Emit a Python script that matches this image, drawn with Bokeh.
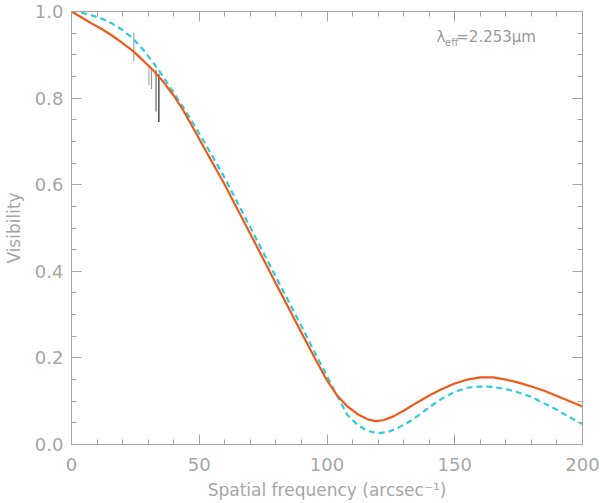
import numpy as np
from bokeh.plotting import figure
from bokeh.models import (LinearAxis, SingleIntervalTicker, FixedTicker,
                          PrintfTickFormatter, Range1d, Label, ColumnDataSource)
from bokeh.embed import file_html
from bokeh.resources import INLINE

# ---- data ----
model_freq = [0, 4, 8, 12, 16, 20, 24, 28, 32, 36, 40, 44, 48, 52, 56, 60, 65,
              70, 75, 80, 85, 90, 95, 100, 104, 108, 112, 116, 119, 122, 126,
              130, 135, 140, 145, 150, 155, 160, 165, 170, 175, 180, 185, 190,
              195, 200]
model_vis = [1.000, 0.986, 0.972, 0.959, 0.944, 0.927, 0.909, 0.887, 0.864,
             0.837, 0.806, 0.769, 0.727, 0.684, 0.642, 0.600, 0.543, 0.486,
             0.429, 0.372, 0.315, 0.258, 0.202, 0.148, 0.113, 0.088, 0.070,
             0.058, 0.054, 0.056, 0.065, 0.078, 0.096, 0.113, 0.128, 0.141,
             0.150, 0.155, 0.155, 0.150, 0.143, 0.134, 0.124, 0.112, 0.100,
             0.088]

fit_freq = [0, 4, 8, 12, 16, 20, 24, 28, 32, 36, 40, 44, 48, 52, 56, 60, 65,
            70, 75, 80, 85, 90, 95, 100, 104, 108, 112, 116, 120, 124, 128,
            132, 136, 140, 145, 150, 155, 160, 165, 170, 175, 180, 185, 190,
            195, 200]
fit_vis = [1.003, 0.997, 0.991, 0.983, 0.972, 0.957, 0.938, 0.912, 0.882,
           0.848, 0.812, 0.776, 0.738, 0.698, 0.657, 0.615, 0.558, 0.501,
           0.444, 0.387, 0.330, 0.273, 0.215, 0.158, 0.112, 0.068, 0.045,
           0.031, 0.026, 0.029, 0.039, 0.052, 0.068, 0.086, 0.106, 0.122,
           0.131, 0.134, 0.133, 0.128, 0.120, 0.110, 0.095, 0.080, 0.063,
           0.047]

obs_freq = [24.4, 30.3, 31.3, 33.1, 34.2]
obs_vis = [0.918, 0.850, 0.843, 0.817, 0.800]
obs_err = [0.033, 0.020, 0.022, 0.048, 0.055]
obs_color = ["#aaaaaa", "#aaaaaa", "#999999", "#666666", "#222222"]

x_major = [0, 50, 100, 150, 200]
x_minor = [v for v in range(0, 201, 10) if v % 50]
y_major = [0.0, 0.2, 0.4, 0.6, 0.8, 1.0]
y_minor = [round(v, 2) for v in np.arange(0.05, 1.0, 0.05) if round(v * 20) % 4]

GRAY = "#a6a6a6"
FONT = "DejaVu Sans"

p = figure(width=600, height=503, output_backend="svg", toolbar_location=None,
           x_range=Range1d(0, 200), y_range=Range1d(0, 1),
           x_axis_type=None, y_axis_type=None,
           min_border_left=71, min_border_right=18,
           min_border_top=11, min_border_bottom=59)
p.xgrid.visible = False
p.ygrid.visible = False
p.outline_line_color = None
p.background_fill_color = "white"
p.border_fill_color = "white"


def style_axis(ax):
    ax.axis_line_color = GRAY
    ax.axis_line_width = 1
    ax.major_tick_line_color = GRAY
    ax.minor_tick_line_color = GRAY
    ax.major_tick_in = 10
    ax.major_tick_out = 0
    ax.minor_tick_in = 5
    ax.minor_tick_out = 0
    ax.major_label_text_color = GRAY
    ax.major_label_text_font = FONT
    ax.major_label_text_font_size = "18px"
    ax.axis_label_text_color = GRAY
    ax.axis_label_text_font = FONT
    ax.axis_label_text_font_style = "normal"
    ax.axis_label_text_font_size = "17px"


def bare_axis(ticks, length, line=True):
    ax = LinearAxis(ticker=FixedTicker(ticks=[], minor_ticks=ticks))
    ax.axis_line_color = GRAY if line else None
    ax.major_tick_line_color = None
    ax.minor_tick_line_color = GRAY
    ax.minor_tick_in = length
    ax.minor_tick_out = 0
    ax.major_label_standoff = 0
    return ax


xb = LinearAxis(ticker=SingleIntervalTicker(interval=50, num_minor_ticks=5),
                axis_label="Spatial frequency (arcsec\u207b\u00b9)")
style_axis(xb)
xb.major_label_standoff = 13
xb.axis_label_standoff = 6
p.add_layout(xb, "below")

yl = LinearAxis(ticker=SingleIntervalTicker(interval=0.2, num_minor_ticks=4),
                axis_label="Visibility",
                formatter=PrintfTickFormatter(format="%.1f"))
style_axis(yl)
yl.major_label_standoff = 8
yl.axis_label_standoff = 8
p.add_layout(yl, "left")

# top and right frame with inward ticks, no labels
p.add_layout(bare_axis(x_minor, 5, line=True), "above")
p.add_layout(bare_axis(x_major, 10, line=False), "above")
p.add_layout(bare_axis(y_minor, 5, line=True), "right")
p.add_layout(bare_axis(y_major, 10, line=False), "right")

# observations (error bars)
ov = np.array(obs_vis)
oe = np.array(obs_err)
src = ColumnDataSource(dict(x=obs_freq, lo=ov - oe, hi=ov + oe, c=obs_color))
p.segment(x0="x", y0="lo", x1="x", y1="hi", source=src, line_color="c",
          line_width=1.2)

# models
p.line(fit_freq, fit_vis, line_color="#2ccbe0", line_width=2.2,
       line_dash="6 4")
p.line(model_freq, model_vis, line_color="#ee5a18", line_width=2.2)

# annotation
common = dict(text_color="#999999", text_font=FONT, text_baseline="middle",
              text_align="left")
p.add_layout(Label(x=142.9, y=0.942, text="\u03bb", text_font_size="15px", **common))
p.add_layout(Label(x=146.2, y=0.928, text="eff", text_font_size="10px", **common))
p.add_layout(Label(x=150.6, y=0.942, text="=2.253\u03bcm", text_font_size="15px",
                   **common))

open("out.html", "w").write(file_html(p, INLINE))
